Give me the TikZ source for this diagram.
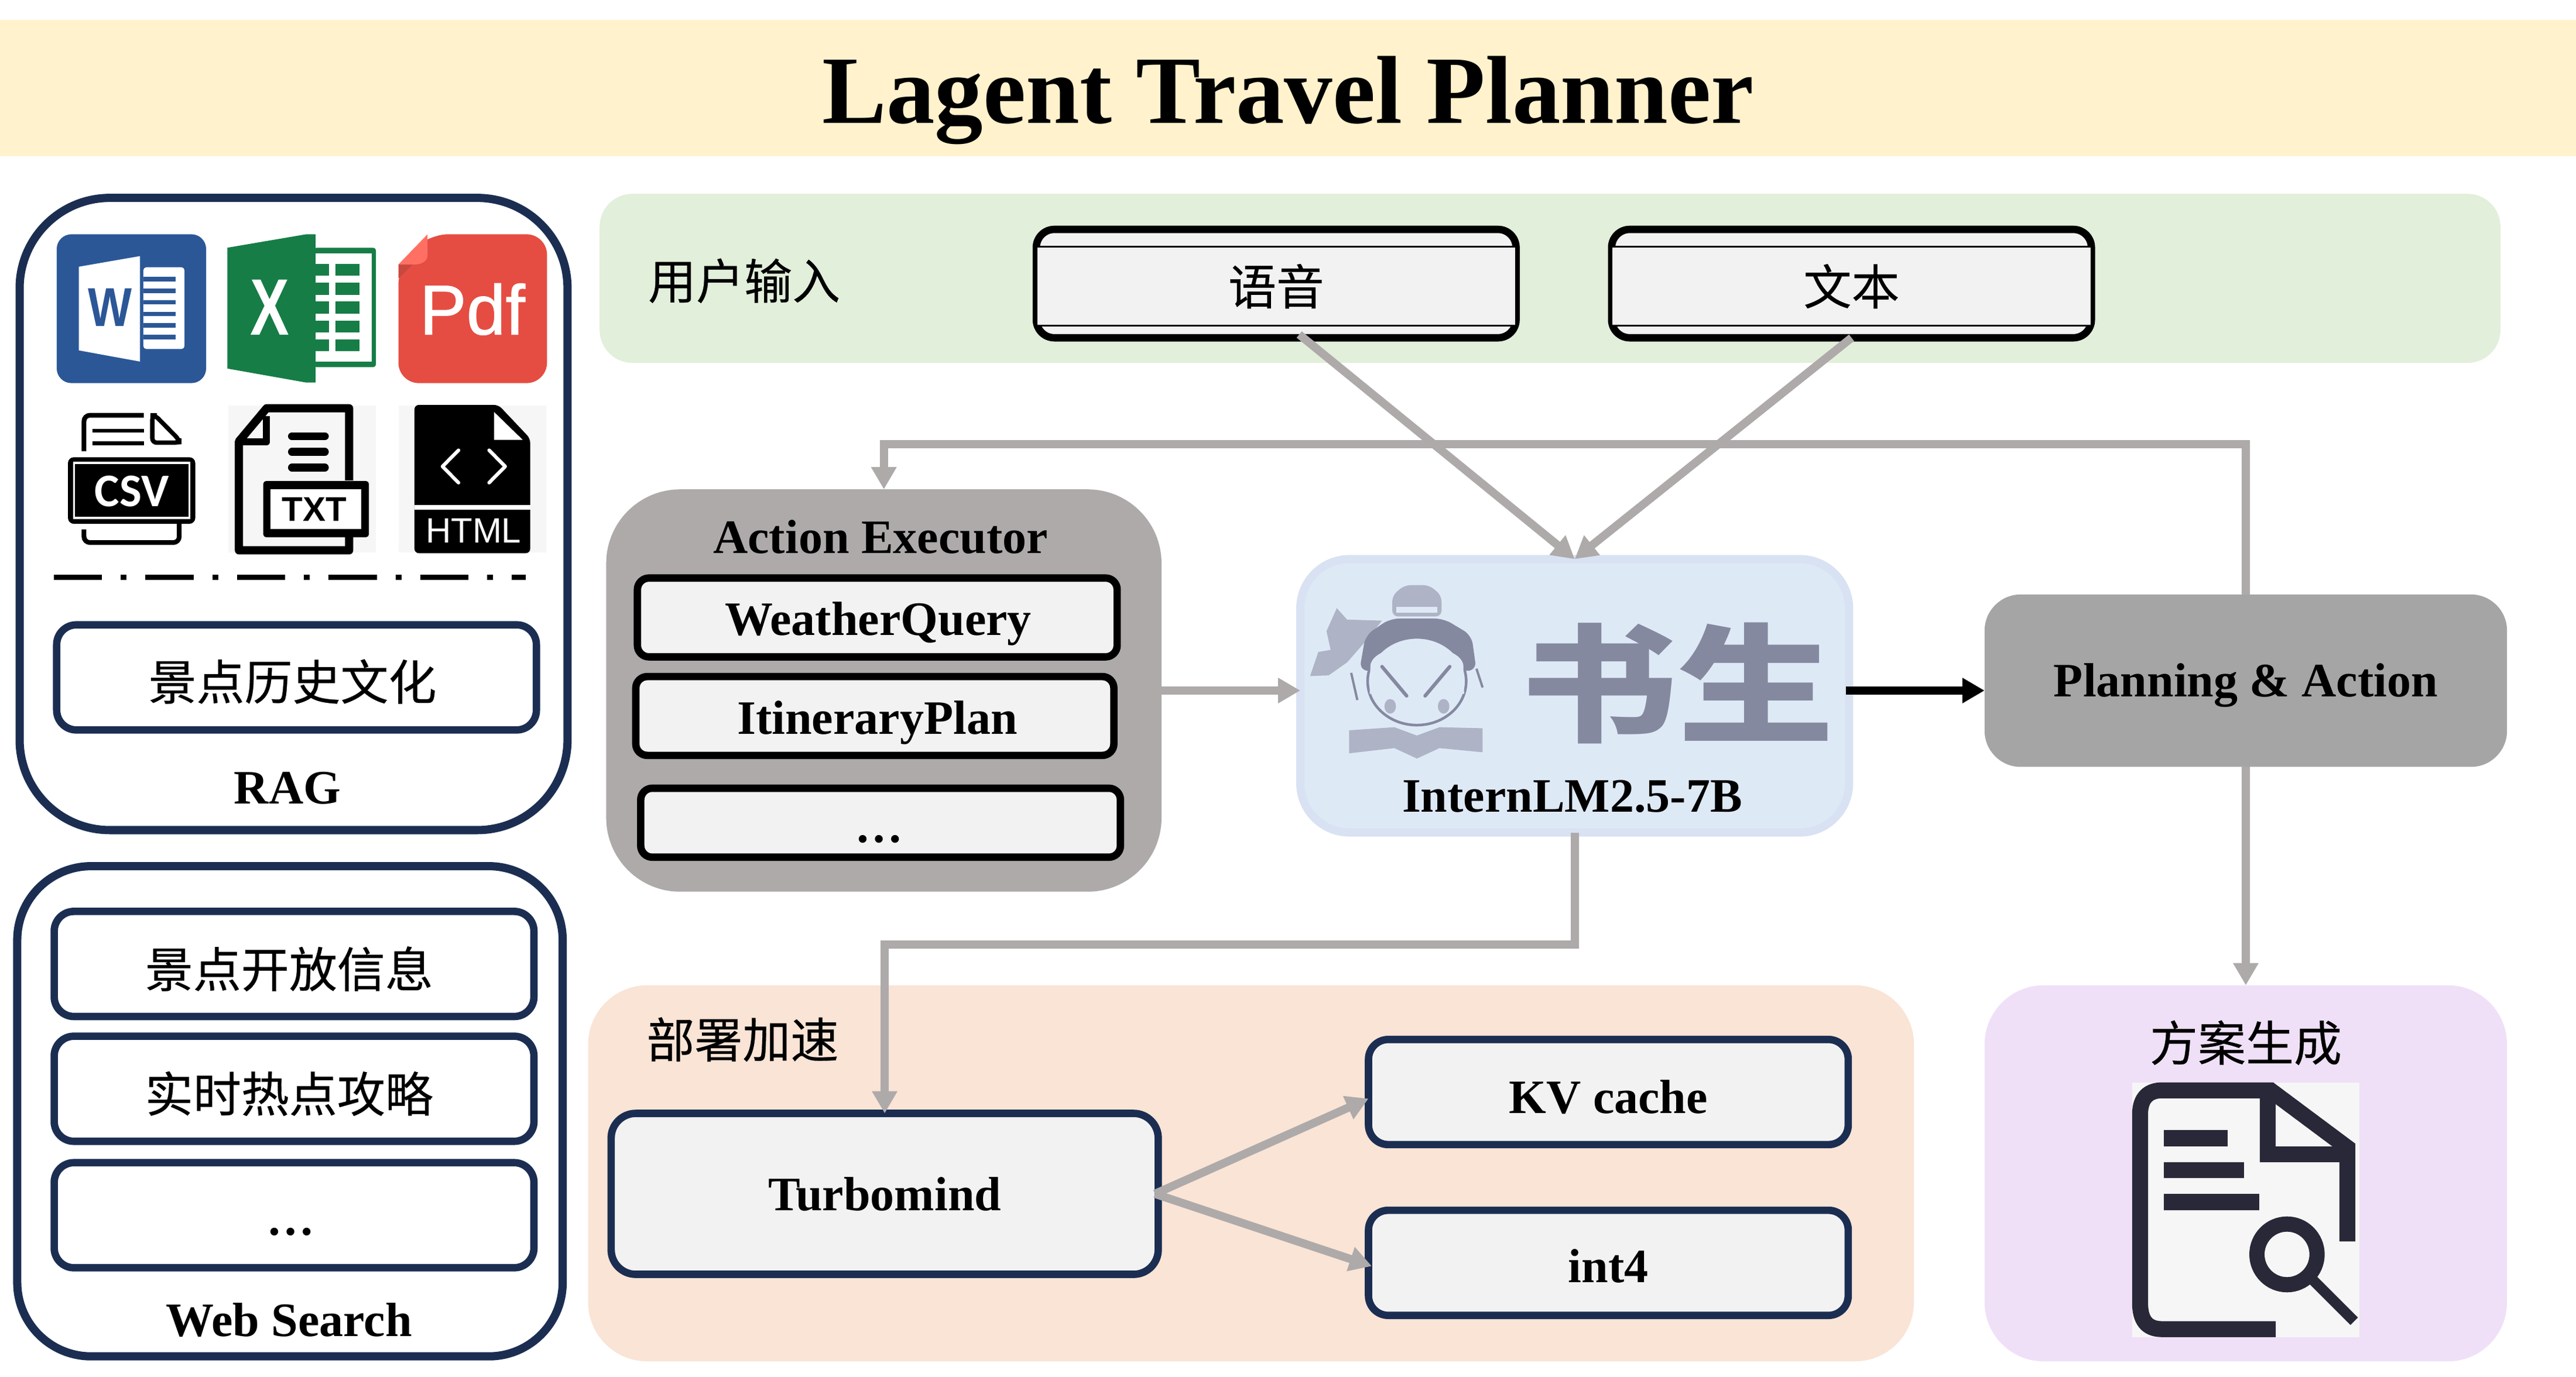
\documentclass[tikz,border=0pt]{standalone}
\usepackage{fontspec}
\setmainfont{Liberation Serif}
\newfontfamily\cjk[FakeBold=0.35]{Noto Sans CJK SC}
\newfontfamily\cjklogo{Noto Sans CJK SC}
\newfontfamily\iconsans{Liberation Sans}
\newfontfamily\iconfat[FakeBold=1.1]{Liberation Sans}
\newfontfamily\iconcal{Carlito}
\usetikzlibrary{positioning,arrows.meta,calc}
\newcommand{\pxu}{0.5612pt}
\definecolor{bandyellow}{HTML}{FFF2CC}
\definecolor{panelgreen}{HTML}{E2EFDA}
\definecolor{panelorange}{HTML}{F9E4D6}
\definecolor{panelpurple}{HTML}{EFE0F8}
\definecolor{navy}{HTML}{1B2E52}
\definecolor{cellgray}{HTML}{F2F2F2}
\definecolor{flowgray}{HTML}{AEAAAA}
\definecolor{plangray}{HTML}{A5A5A5}
\definecolor{modelfill}{HTML}{DEE9F6}
\definecolor{modeledge}{HTML}{D8E2F3}
\definecolor{logoblue}{HTML}{8589A0}
\definecolor{logolight}{HTML}{AEB3C6}
\definecolor{wordblue}{HTML}{2B5797}
\definecolor{excelgreen}{HTML}{167D46}
\definecolor{pdfred}{HTML}{E54D42}
\definecolor{pdffold}{HTML}{FF7063}
\definecolor{pdfshade}{HTML}{C9483E}
\definecolor{iconbg}{HTML}{F6F6F6}
\definecolor{docink}{HTML}{282838}
\tikzset{
  cell/.style 2 args={
    rectangle,
    outer sep=0pt,
    inner sep=0pt,
    align=center,
    minimum width=#1*\pxu,
    minimum height=#2*\pxu
  },
  panel/.style={rounded corners=#1*\pxu},
  navybox/.style={draw=navy,line width=4.5*\pxu,rounded corners=12*\pxu},
  blackbox/.style={draw=black,line width=4.5*\pxu,fill=cellgray,rounded corners=7*\pxu},
  latin/.style={font=\bfseries\fontsize{16.4}{19}\selectfont},
  hanzi/.style={font=\cjk\fontsize{16.4}{19}\selectfont},
  flow/.style={draw=flowgray,line width=5*\pxu,
    -{Triangle[length=7.6pt,width=8.2pt]}},
  flowblack/.style={flow,draw=black}
}
\begin{document}
\begin{tikzpicture}[x=\pxu,y=-\pxu]
\useasboundingbox (0,0) rectangle (1568,838.2);

% title
\node[cell={1568}{83},fill=bandyellow] (band) at (784,53.5) {};
\node[font=\bfseries\fontsize{33}{38}\selectfont] (title) at (784,61) {Lagent Travel Planner};

% panels
\node[cell={1157}{103},panel=20,fill=panelgreen] (inputpanel) at (943.5,169.5) {};
\node[cell={807}{229},panel=36,fill=panelorange] (deploypanel) at (761.5,714.5) {};
\node[cell={318}{229},panel=36,fill=panelpurple] (outputpanel) at (1367,714.5) {};
\node[hanzi] (inputlabel) at (453,171) {用户输入};
\node[hanzi] (deploylabel) at (452,633) {部署加速};
\node[hanzi] (outputlabel) at (1367,635) {方案生成};

% rag
\node[cell={333.5}{385},draw=navy,line width=5*\pxu,panel=55] (rag) at (178.7,313) {};
\node[cell={292}{64},navybox] (ragbox) at (180.5,412.5) {};
\node[hanzi] (ragtext) at (178,415) {景点历史文化};
\node[latin] (raglabel) at (175,480) {RAG};

% icons, in a grid of their own
\begin{scope}[shift={(0,106.9)},x=0.12755pt,y=-0.0956pt]
  % word
  \fill[wordblue,rounded corners=5pt] (152,210) rectangle (552,742);
  \fill[white] (211,326) -- (375,288) -- (375,665) -- (211,625) -- cycle;
  \fill[white,rounded corners=1pt] (384,328) rectangle (494,620);
  \foreach \ly in {362,404,445,487,528,570}
    \fill[wordblue] (384,\ly) rectangle (470,\ly+16);
  \node[font=\iconsans\bfseries\fontsize{18.7}{20}\selectfont,text=wordblue,xscale=.85,inner sep=0pt] (wordmark) at (295,472) {W};
  % excel
  \fill[excelgreen] (609,258) -- (820,210) -- (845,210) -- (845,740) -- (820,740) -- (609,690) -- cycle;
  \fill[excelgreen,rounded corners=1pt] (840,258) rectangle (1007,685);
  \fill[white] (845,278) rectangle (995,665);
  \foreach \ly in {315,383,450,518,585} {
    \fill[excelgreen] (845,\ly) rectangle (881,\ly+43);
    \fill[excelgreen] (899,\ly) rectangle (963,\ly+43);
  }
  \node[font=\iconsans\bfseries\fontsize{27.4}{29}\selectfont,text=white,xscale=.73,inner sep=0pt] (excelmark) at (722,472) {X};
  % pdf
  \fill[pdfred,rounded corners=7pt] (1145,210) -- (1465,210) -- (1465,742) -- (1067,742) -- (1067,318) -- cycle;
  \fill[pdfshade] (1067,318) -- (1105,318) -- (1067,368) -- cycle;
  \fill[pdffold] (1145,210) -- (1145,285) .. controls (1145,305) and (1130,318) .. (1110,318) -- (1067,318) -- cycle;
  \node[font=\iconfat\fontsize{24}{26}\selectfont,text=white,inner sep=0pt] (pdfmark) at (1265,478) {Pdf};
  % csv
  \draw[line width=1.6pt,rounded corners=2pt] (225,985) -- (225,857) -- (385,857);
  \draw[line width=1.3pt] (248,912) -- (385,912) (248,957) -- (385,957);
  \draw[line width=1.5pt,rounded corners=1.5pt] (408,857) -- (408,955) -- (480,955) -- (480,945) -- (415,857) -- cycle;
  \fill[rounded corners=2pt] (182,1007) rectangle (523,1245);
  \draw[white,line width=.7pt] (198,1027) rectangle (507,1224);
  \draw[line width=1.6pt,rounded corners=2pt] (225,1265) -- (225,1312) -- (480,1312) -- (480,1245);
  \node[font=\iconcal\bfseries\fontsize{16}{18}\selectfont,text=white,inner sep=0pt] (csvmark) at (353,1128) {CSV};
  % txt
  \fill[iconbg] (612,822) rectangle (1007,1347);
  \draw[line width=2.8pt,line join=round] (935,1090) -- (935,832) -- (714,832) -- (640,950) -- (640,1340) -- (935,1340) -- (935,1290);
  \draw[line width=2.4pt,line join=round] (714,860) -- (714,952) -- (650,952);
  \foreach \ly in {932,988,1044}
    \draw[line width=2.7pt,line cap=round] (782,\ly) -- (870,\ly);
  \fill[rounded corners=1pt] (705,1092) rectangle (988,1293);
  \fill[white] (725,1122) rectangle (967,1263);
  \node[font=\iconsans\bfseries\fontsize{11.7}{13}\selectfont,inner sep=0pt] (txtmark) at (842,1194) {TXT};
  % html
  \fill[iconbg] (1067,822) rectangle (1463,1347);
  \fill[rounded corners=1.5pt] (1110,820) -- (1335,820) -- (1420,940) -- (1420,1350) -- (1110,1350) -- cycle;
  \fill[white] (1323,845) -- (1400,945) -- (1323,945) -- cycle;
  \fill[white] (1110,1177) rectangle (1420,1195);
  \draw[white,line width=1.2pt,line cap=round,line join=round] (1228,982) -- (1185,1040) -- (1228,1098);
  \draw[white,line width=1.2pt,line cap=round,line join=round] (1310,982) -- (1353,1040) -- (1310,1098);
  \node[font=\iconsans\fontsize{12}{14}\selectfont,text=white,inner sep=0pt] (htmlmark) at (1268,1270) {HTML};
  % separator
  \draw[line width=1.9pt,dash pattern=on 16.5pt off 6.4pt on 2pt off 6.4pt] (144,1436) -- (1408,1436);
\end{scope}

% web search
\node[cell={332}{298.5},draw=navy,line width=5*\pxu,panel=45] (web) at (176.5,676.7) {};
\node[cell={292}{64},navybox] (webone) at (179,587) {};
\node[cell={292}{64},navybox] (webtwo) at (179,663) {};
\node[cell={292}{64},navybox] (webthree) at (179,740) {};
\node[hanzi] (webonetext) at (176,590) {景点开放信息};
\node[hanzi] (webtwotext) at (176,666) {实时热点攻略};
\node[latin] (webthreetext) at (177,750) {…};
\node[latin] (weblabel) at (176,804) {Web Search};

% user input
\node[cell={292}{66},draw=black,line width=4.5*\pxu,fill=cellgray,panel=11] (voice) at (776.8,172.7) {};
\node[cell={292}{48},draw=black,line width=1.1*\pxu,fill=cellgray,hanzi] (voicetext) at (776.8,174.3) {语音};
\node[cell={292}{66},draw=black,line width=4.5*\pxu,fill=cellgray,panel=11] (txtin) at (1127,172.7) {};
\node[cell={292}{48},draw=black,line width=1.1*\pxu,fill=cellgray,hanzi] (txtintext) at (1127,174.3) {文本};

% action executor
\node[cell={338}{245},fill=flowgray,panel=45] (action) at (538,420.5) {};
\node[latin] (actionlabel) at (536,327) {Action Executor};
\node[cell={292}{48},blackbox] (weather) at (534,376) {};
\node[cell={291}{48},blackbox] (itinerary) at (532.5,436) {};
\node[cell={292}{42},blackbox] (more) at (536,501) {};
\node[latin] (weathertext) at (534.5,380) {WeatherQuery};
\node[latin] (itinerarytext) at (534,440) {ItineraryPlan};
\node[latin] (moretext) at (535,511) {…};

% model
\node[cell={334}{166.5},draw=modeledge,line width=5*\pxu,fill=modelfill,panel=30] (model) at (958.5,423.7) {};
\node[font=\cjklogo\bfseries\fontsize{53.5}{56}\selectfont,text=logoblue,yscale=.82,inner sep=0pt] (shusheng) at (1021,416) {书生};
\node[latin] (modellabel) at (957,485) {InternLM2.5-7B};
\begin{scope}[shift={(766.2,320.7)},x=0.1403pt,y=-0.0714pt]
  \fill[logolight,rounded corners=2pt] (325,430) -- (325,330) -- (355,280) -- (415,280) -- (445,330) -- (445,430) -- cycle;
  \fill[modelfill] (335,385) rectangle (435,412);
  \fill[logolight] (125,715) -- (145,600) -- (175,590) -- (165,500) -- (190,390) -- (215,445) -- (300,450) -- (255,560) -- (215,650) -- (170,712) -- cycle;
  \fill[logoblue,rounded corners=3pt] (245,690) -- (260,520) -- (320,440) -- (450,440) -- (518,520) -- (530,690) -- cycle;
  \draw[logoblue,line width=.9pt,fill=modelfill] (385,740) ellipse (120 and 210);
  \fill[modelfill] (272,660) .. controls (280,600) and (330,570) .. (385,590) .. controls (440,570) and (490,600) .. (498,660) -- (500,800) -- (270,800) -- cycle;
  \draw[logoblue,line width=.8pt] (225,700) -- (240,830) (530,680) -- (545,770);
  \draw[logoblue,line width=1.2pt,line cap=round] (300,670) -- (360,810) (465,670) -- (405,810);
  \fill[logolight] (320,860) ellipse (14 and 35) (450,860) ellipse (14 and 35);
  \fill[logolight] (220,975) -- (330,960) -- (385,1000) -- (440,960) -- (545,965) -- (545,1080) -- (440,1060) -- (385,1110) -- (330,1060) -- (220,1085) -- cycle;
\end{scope}

% planning
\node[cell={318}{105},fill=plangray,panel=22] (plan) at (1367,414.5) {};
\node[latin] (plantext) at (1367,417.5) {Planning \& Action};

% deploy
\node[cell={333}{98},navybox,fill=cellgray,panel=15,latin] (turbo) at (538.5,727) {Turbomind};
\node[cell={292}{64},navybox,fill=cellgray] (kvcache) at (979,665) {};
\node[cell={292}{64},navybox,fill=cellgray] (intfour) at (979,769) {};
\node[latin] (kvtext) at (979,668) {KV cache};
\node[latin] (inttext) at (979,771) {int4};

% output document
\begin{scope}[shift={(1265.1,605.8)},x=0.0893pt,y=-0.0816pt]
  \fill[iconbg] (205,367) rectangle (1075,1433);
  \draw[docink,line width=5.45pt] (755,1400) -- (320,1400) .. controls (260,1400) and (236,1360) .. (236,1290) -- (236,500) .. controls (236,430) and (270,400) .. (320,400) -- (735,400) -- (1029,640) -- (1029,1033);
  \draw[docink,line width=5.45pt] (724,420) -- (724,668) -- (1005,668);
  \fill[docink] (327,567) rectangle (572,635);
  \fill[docink] (327,702) rectangle (633,768);
  \fill[docink] (327,833) rectangle (693,901);
  \draw[docink,line width=5.2pt] (798,1087) ellipse (115 and 127);
  \draw[docink,line width=3.6pt] (898,1195) -- (1055,1367);
\end{scope}

% connectors
\begin{scope}
\coordinate(start) at ($(voice.south)+(14,-2)$);
\coordinate(end) at (model.north);
\draw[flow] (start) -- (end);
\draw[flow] (txtin.south) -- (end);
\end{scope}

\coordinate(up) at (plan.north |- 0,270.5);
\draw[flow] (plan.north) -- (up) -| (action.north);

\draw[flow] (action.east) -- (action.east -| model.west);
\draw[flowblack] ($(model.east |- action.east)+(-2,0)$) -- (plan.west |- action.east);
\draw[flow] (plan.south) -- (outputpanel.north);

\coordinate(turn) at (model.south |- 0,575);
\draw[flow] (model.south) -- (turn) -| (turbo.north);

\draw[flow] ($(turbo.east)+(-2,0)$) -- ($(kvcache.west)+(0,4)$);
\draw[flow] ($(turbo.east)+(-2,0)$) -- ($(intfour.west)+(2,2)$);

\end{tikzpicture}
\end{document}
